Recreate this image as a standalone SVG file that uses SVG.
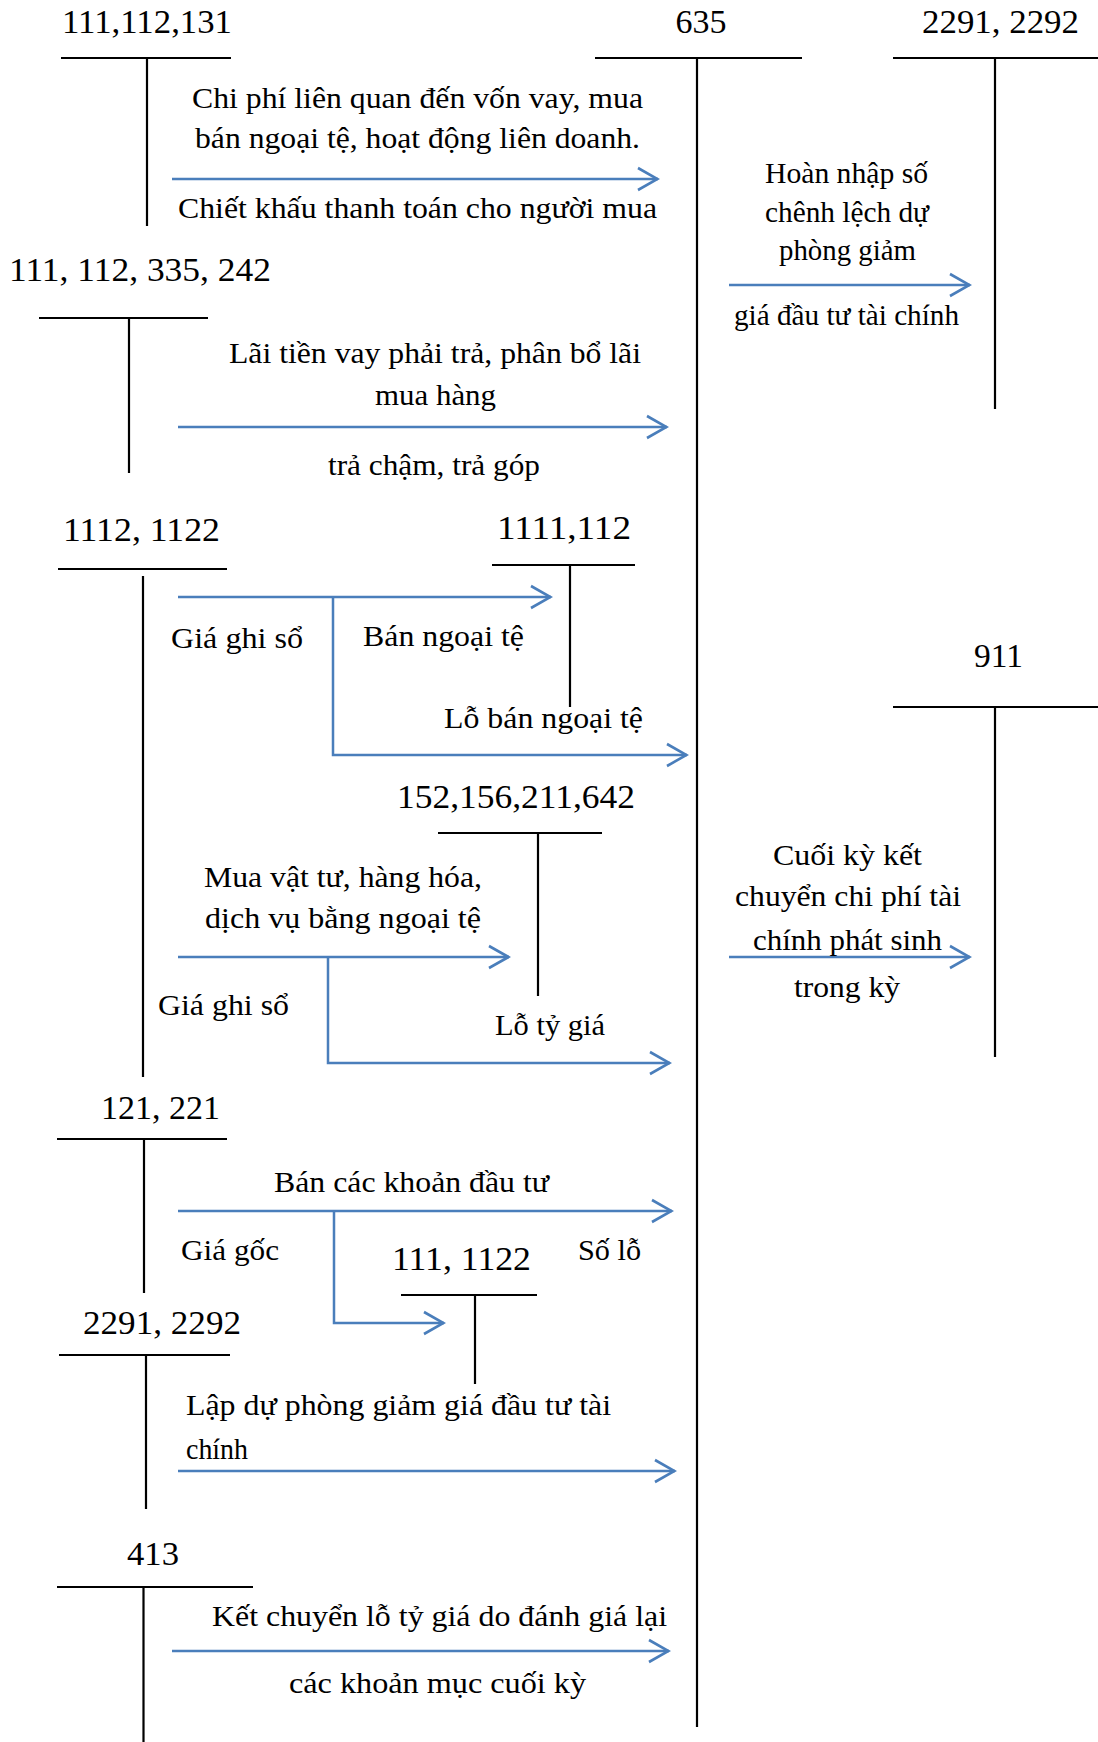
<svg xmlns="http://www.w3.org/2000/svg" width="1098" height="1742" viewBox="0 0 1098 1742">
  <style>
    .acc { font-family: "Liberation Serif", "Times New Roman", serif; font-size: 34px; fill: #000; }
    .lbl { font-family: "Liberation Serif", "Times New Roman", serif; font-size: 30px; fill: #000; }
    .t { stroke: #000; stroke-width: 2.2; fill: none; }
    .flow { stroke: #4A7EBB; stroke-width: 2.5; fill: none; marker-end: url(#chev); }
  </style>
  <defs>
    <marker id="chev" markerUnits="userSpaceOnUse" viewBox="0 0 24 26" refX="22" refY="13" markerWidth="24" markerHeight="26" orient="auto">
      <path d="M2 2 L21.5 13 L2 24" fill="none" stroke="#4A7EBB" stroke-width="2.6"/>
    </marker>
  </defs>
  <rect width="1098" height="1742" fill="#fff"/>

  <!-- T-accounts -->
  <g id="acc-111-112-131">
    <text class="acc" x="62" y="33" textLength="170" lengthAdjust="spacingAndGlyphs">111,112,131</text>
    <path class="t" d="M61 58 H231 M147 58 V226"/>
  </g>
  <g id="acc-635">
    <text class="acc" x="701" y="33" text-anchor="middle">635</text>
    <path class="t" d="M595 58 H802 M697 58 V1727"/>
  </g>
  <g id="acc-2291-2292-a">
    <text class="acc" x="922" y="33" textLength="157" lengthAdjust="spacingAndGlyphs">2291, 2292</text>
    <path class="t" d="M893 58 H1098 M995 58 V409"/>
  </g>
  <g id="acc-111-112-335-242">
    <text class="acc" x="9" y="281" textLength="262" lengthAdjust="spacingAndGlyphs">111, 112, 335, 242</text>
    <path class="t" d="M39 318 H208 M129 318 V473"/>
  </g>
  <g id="acc-1112-1122">
    <text class="acc" x="63" y="541" textLength="157" lengthAdjust="spacingAndGlyphs">1112, 1122</text>
    <path class="t" d="M58 569 H227 M143 576 V1077"/>
  </g>
  <g id="acc-1111-112">
    <text class="acc" x="497" y="539" textLength="134" lengthAdjust="spacingAndGlyphs">1111,112</text>
    <path class="t" d="M492 565 H635 M570 565 V707"/>
  </g>
  <g id="acc-152-156-211-642">
    <text class="acc" x="397" y="808" textLength="238" lengthAdjust="spacingAndGlyphs">152,156,211,642</text>
    <path class="t" d="M438 833 H602 M538 833 V996"/>
  </g>
  <g id="acc-911">
    <text class="acc" x="974" y="667" textLength="49" lengthAdjust="spacingAndGlyphs">911</text>
    <path class="t" d="M893 707 H1098 M995 707 V1057"/>
  </g>
  <g id="acc-121-221">
    <text class="acc" x="101" y="1119" textLength="119" lengthAdjust="spacingAndGlyphs">121, 221</text>
    <path class="t" d="M57 1139 H227 M144 1139 V1293"/>
  </g>
  <g id="acc-111-1122">
    <text class="acc" x="392" y="1270" textLength="139" lengthAdjust="spacingAndGlyphs">111, 1122</text>
    <path class="t" d="M401 1295 H537 M475 1295 V1384"/>
  </g>
  <g id="acc-2291-2292-b">
    <text class="acc" x="83" y="1334" textLength="158" lengthAdjust="spacingAndGlyphs">2291, 2292</text>
    <path class="t" d="M59 1355 H230 M146 1355 V1509"/>
  </g>
  <g id="acc-413">
    <text class="acc" x="127" y="1565" textLength="52" lengthAdjust="spacingAndGlyphs">413</text>
    <path class="t" d="M57 1587 H253 M143.5 1587 V1742"/>
  </g>

  <!-- Posting flows -->
  <g id="connectors">
    <path class="flow" d="M172 179 H658"/>
    <path class="flow" d="M178 427 H667"/>
    <path class="flow" d="M729 285 H970"/>
    <path class="flow" d="M178 597 H551"/>
    <path class="flow" d="M333 597 V755 H687"/>
    <path class="flow" d="M178 957 H509"/>
    <path class="flow" d="M328 957 V1063 H670"/>
    <path class="flow" d="M729 957 H970"/>
    <path class="flow" d="M178 1211 H672"/>
    <path class="flow" d="M334 1211 V1323 H444"/>
    <path class="flow" d="M178 1471 H675"/>
    <path class="flow" d="M172 1651 H669"/>
  </g>

  <!-- Entry descriptions -->
  <g id="labels">
    <text class="lbl" x="192" y="108" textLength="451" lengthAdjust="spacingAndGlyphs">Chi phí liên quan đến vốn vay, mua</text>
    <text class="lbl" x="195" y="148" textLength="445" lengthAdjust="spacingAndGlyphs">bán ngoại tệ, hoạt động liên doanh.</text>
    <text class="lbl" x="178" y="218" textLength="479" lengthAdjust="spacingAndGlyphs">Chiết khấu thanh toán cho người mua</text>
    <text class="lbl" x="229" y="363" textLength="412" lengthAdjust="spacingAndGlyphs">Lãi tiền vay phải trả, phân bổ lãi</text>
    <text class="lbl" x="375" y="405" textLength="121" lengthAdjust="spacingAndGlyphs">mua hàng</text>
    <text class="lbl" x="328" y="475" textLength="212" lengthAdjust="spacingAndGlyphs">trả chậm, trả góp</text>
    <text class="lbl" x="765" y="183" textLength="163" lengthAdjust="spacingAndGlyphs">Hoàn nhập số</text>
    <text class="lbl" x="765" y="222" textLength="164" lengthAdjust="spacingAndGlyphs">chênh lệch dự</text>
    <text class="lbl" x="779" y="260" textLength="137" lengthAdjust="spacingAndGlyphs">phòng giảm</text>
    <text class="lbl" x="734" y="325" textLength="225" lengthAdjust="spacingAndGlyphs">giá đầu tư tài chính</text>
    <text class="lbl" x="171" y="648" textLength="132" lengthAdjust="spacingAndGlyphs">Giá ghi sổ</text>
    <text class="lbl" x="363" y="646" textLength="161" lengthAdjust="spacingAndGlyphs">Bán ngoại tệ</text>
    <text class="lbl" x="444" y="728" textLength="199" lengthAdjust="spacingAndGlyphs">Lỗ bán ngoại tệ</text>
    <text class="lbl" x="204" y="887" textLength="278" lengthAdjust="spacingAndGlyphs">Mua vật tư, hàng hóa,</text>
    <text class="lbl" x="205" y="928" textLength="276" lengthAdjust="spacingAndGlyphs">dịch vụ bằng ngoại tệ</text>
    <text class="lbl" x="158" y="1015" textLength="131" lengthAdjust="spacingAndGlyphs">Giá ghi sổ</text>
    <text class="lbl" x="495" y="1035" textLength="110" lengthAdjust="spacingAndGlyphs">Lỗ tỷ giá</text>
    <text class="lbl" x="773" y="865" textLength="149" lengthAdjust="spacingAndGlyphs">Cuối kỳ kết</text>
    <text class="lbl" x="735" y="906" textLength="226" lengthAdjust="spacingAndGlyphs">chuyển chi phí tài</text>
    <text class="lbl" x="753" y="950" textLength="189" lengthAdjust="spacingAndGlyphs">chính phát sinh</text>
    <text class="lbl" x="794" y="997" textLength="106" lengthAdjust="spacingAndGlyphs">trong kỳ</text>
    <text class="lbl" x="274" y="1192" textLength="275" lengthAdjust="spacingAndGlyphs">Bán các khoản đầu tư</text>
    <text class="lbl" x="181" y="1260" textLength="98" lengthAdjust="spacingAndGlyphs">Giá gốc</text>
    <text class="lbl" x="578" y="1260" textLength="63" lengthAdjust="spacingAndGlyphs">Số lỗ</text>
    <text class="lbl" x="186" y="1415" textLength="425" lengthAdjust="spacingAndGlyphs">Lập dự phòng giảm giá đầu tư tài</text>
    <text class="lbl" x="186" y="1459" textLength="62" lengthAdjust="spacingAndGlyphs">chính</text>
    <text class="lbl" x="212" y="1626" textLength="455" lengthAdjust="spacingAndGlyphs">Kết chuyển lỗ tỷ giá do đánh giá lại</text>
    <text class="lbl" x="289" y="1693" textLength="297" lengthAdjust="spacingAndGlyphs">các khoản mục cuối kỳ</text>
  </g>
</svg>
